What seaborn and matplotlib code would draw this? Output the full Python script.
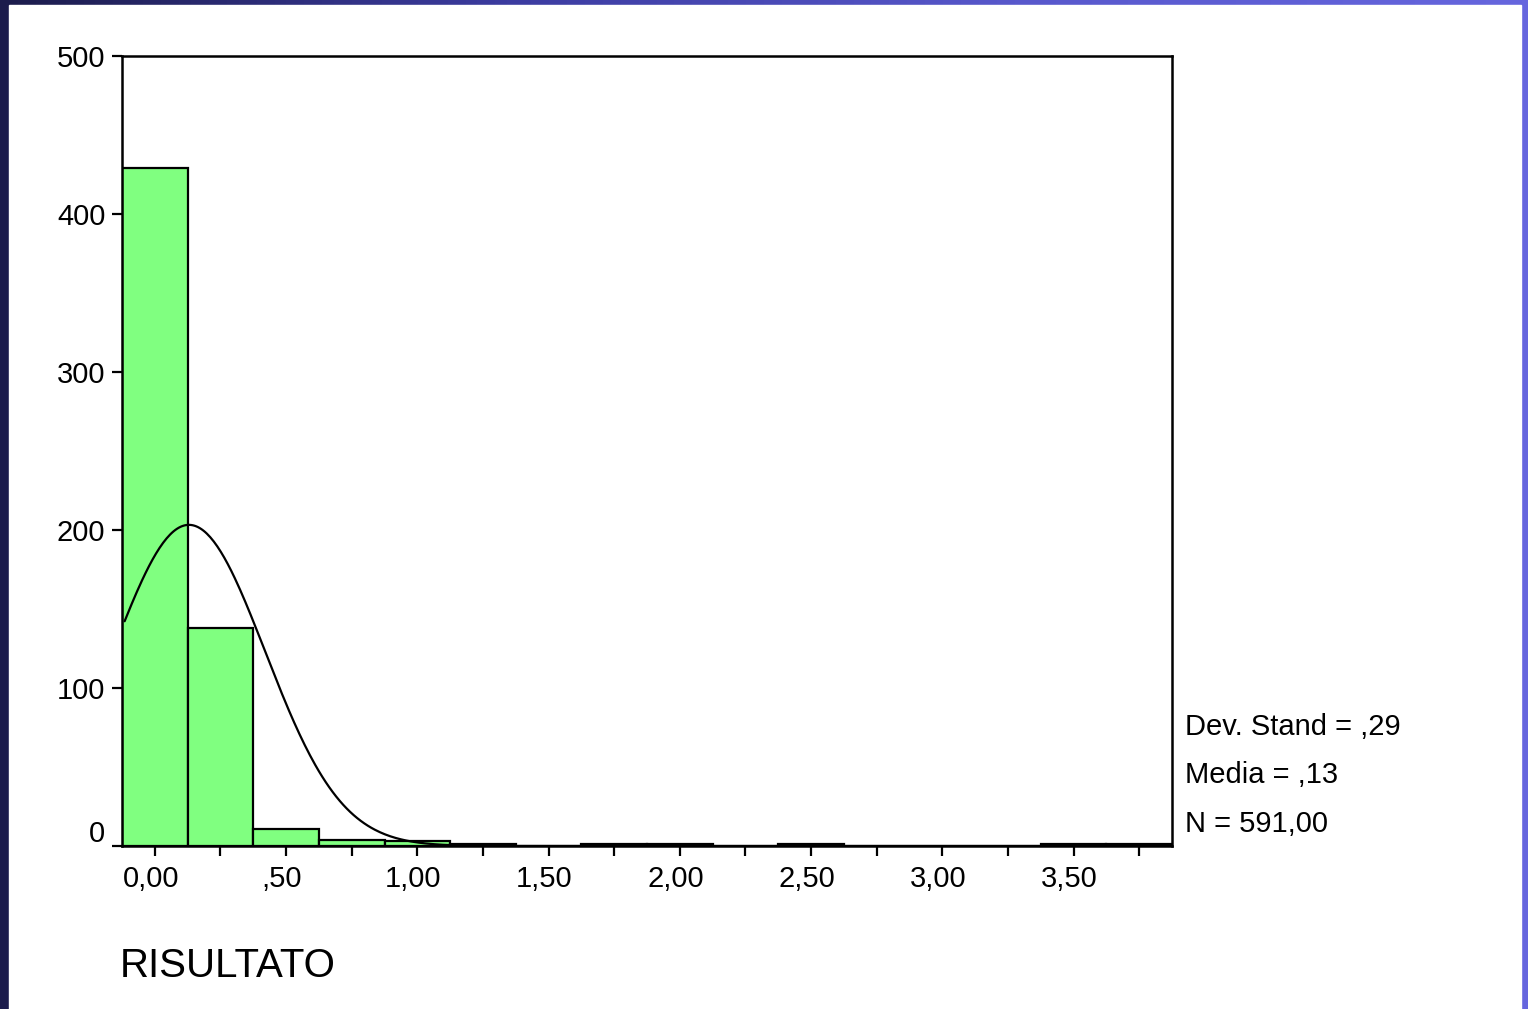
import numpy as np
import pandas as pd
import matplotlib
matplotlib.use("Agg")
import matplotlib.pyplot as plt
import matplotlib.transforms as mtransforms
import seaborn as sns
from matplotlib.colors import LinearSegmentedColormap

# ---- data ----
bin_centers = [0.00, 0.25, 0.50, 0.75, 1.00, 1.25, 1.50, 1.75, 2.00, 2.25, 2.50, 2.75, 3.00, 3.25, 3.50, 3.75]
counts      = [429,  138,  11,   4,    3,    1,    0,    1,    1,    0,    1,    0,    0,    0,    1,    1]
bin_width = 0.25
x_ticks = [0.0, 0.5, 1.0, 1.5, 2.0, 2.5, 3.0, 3.5]
x_tick_labels = ["0,00", ",50", "1,00", "1,50", "2,00", "2,50", "3,00", "3,50"]
y_ticks = [0, 100, 200, 300, 400, 500]
y_tick_labels = ["0", "100", "200", "300", "400", "500"]
std_dev = 0.29
mean = 0.13
n_total = 591
stats_lines = ["Dev. Stand = ,29", "Media = ,13", "N = 591,00"]
x_label = "RISULTATO"

sns.set_theme(style="white")
plt.rcParams['font.family'] = ['Liberation Sans', 'DejaVu Sans']

W, H = 1528, 1009
fig = plt.figure(figsize=(W / 100, H / 100), dpi=100)

# ---- slide background ----
bg = fig.add_axes([0, 0, 1, 1])
grad = np.linspace(0, 1, 256)[None, :]
cmap = LinearSegmentedColormap.from_list("slide", ["#1c1c4c", "#3c3ca0", "#5858cc", "#6666de"])
bg.imshow(grad, aspect="auto", cmap=cmap, extent=[0, 1, 0, 1])
bg.add_patch(plt.Rectangle((9 / W, 0), (1521 - 9) / W, (H - 5) / H, color="white", zorder=2))
bg.set_xlim(0, 1)
bg.set_ylim(0, 1)
bg.axis("off")

# ---- histogram ----
left, right = 122 / W, 1172 / W
bottom, top = (H - 846) / H, (H - 56) / H
ax = fig.add_axes([left, bottom, right - left, top - bottom])
ax.set_facecolor("white")

edges = [c - bin_width / 2 for c in bin_centers] + [bin_centers[-1] + bin_width / 2]
df = pd.DataFrame({"value": bin_centers, "count": counts})
sns.histplot(data=df, x="value", weights="count", bins=edges, ax=ax,
             color="#80ff80", alpha=1.0, edgecolor="black", linewidth=1.6)

# normal curve
xs = np.linspace(edges[0] + 0.01, edges[-1], 600)
ys = n_total * bin_width / (std_dev * np.sqrt(2 * np.pi)) * np.exp(-0.5 * ((xs - mean) / std_dev) ** 2)
sns.lineplot(x=xs, y=ys, ax=ax, color="black", linewidth=1.6)

ax.set_xlim(edges[0], edges[-1])
ax.set_ylim(0, 500)
ax.set_xticks(x_ticks)
ax.set_xticklabels(x_tick_labels)
ax.set_xticks(np.arange(0.25, 3.8, 0.5), minor=True)
ax.set_yticks(y_ticks)
ax.set_yticklabels(y_tick_labels)
ax.set_xlabel("")
ax.set_ylabel("")

for s in ax.spines.values():
    s.set_visible(True)
    s.set_color("black")
    s.set_linewidth(1.8)

ax.tick_params(axis="both", which="both", direction="out", length=7, width=1.6,
               color="black", labelsize=21, labelcolor="black")
ax.tick_params(axis="x", which="both", bottom=True, pad=7)
ax.tick_params(axis="y", left=True, pad=5)

# the "0" label sits slightly above its tick in the original
zero_lbl = ax.get_yticklabels()[0]
zero_lbl.set_transform(zero_lbl.get_transform() +
                       mtransforms.ScaledTranslation(0, 15 / 100, fig.dpi_scale_trans))
# x labels slightly left of their ticks
for lbl in ax.get_xticklabels():
    lbl.set_transform(lbl.get_transform() +
                      mtransforms.ScaledTranslation(-4 / 100, 0, fig.dpi_scale_trans))

# stats text
ys_text = [727, 775, 824]
for line, yp in zip(stats_lines, ys_text):
    fig.text(1185 / W, 1 - yp / H, line, fontsize=21, color="black", ha="left", va="center")

fig.text(120 / W, 1 - 966 / H, x_label, fontsize=29, color="black", ha="left", va="center")

fig.savefig("out.png", dpi=100)
